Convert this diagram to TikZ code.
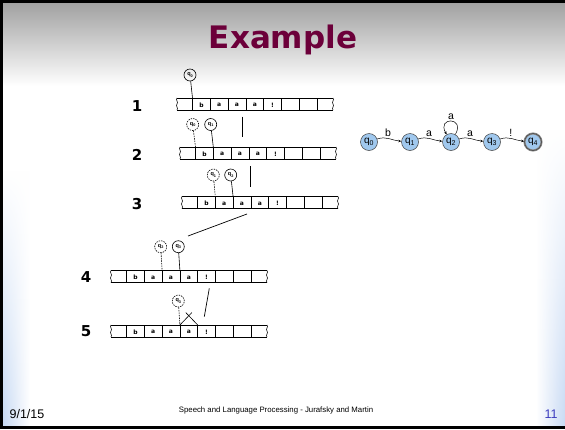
\documentclass[tikz,border=0pt]{standalone}
\usepackage{fontspec}
\setmainfont{Liberation Sans}
\newfontfamily\titlefont{DejaVu Sans}
\usetikzlibrary{arrows.meta,fadings}
\definecolor{titlered}{RGB}{108,0,58}
\definecolor{statefill}{RGB}{160,200,238}
\definecolor{pagenumblue}{RGB}{60,60,190}
\definecolor{edgeblue}{RGB}{200,218,244}
\definecolor{topgray}{RGB}{158,158,158}
\tikzfading[name=fadeup, top color=transparent!100, bottom color=transparent!0]
\tikzset{
  tapeline/.style={line width=0.6pt},
  cellletter/.style={inner sep=0pt, font=\titlefont\fontsize{6}{6}\selectfont\bfseries},
  head/.style={circle, draw, line width=0.6pt, minimum size=12pt, inner sep=0pt,
    font=\fontsize{5.5}{5.5}\selectfont\bfseries},
  dhead/.style={head, dash pattern=on 1.5pt off 1pt},
  hline/.style={line width=0.6pt},
  dhline/.style={line width=0.6pt, dash pattern=on 1.5pt off 1pt},
  sepline/.style={line width=0.7pt},
  stepnum/.style={font=\titlefont\fontsize{15}{15}\selectfont\bfseries, inner sep=0pt},
  state/.style={circle, draw=black!75, fill=statefill, line width=0.5pt, minimum size=17pt,
    inner sep=0pt, font=\fontsize{10}{10}\selectfont},
  fsaedge/.style={line width=0.5pt, -{Stealth[length=3pt,width=2.5pt]}},
  edgelabel/.style={font=\fontsize{10.5}{10.5}\selectfont, inner sep=1.5pt},
  titletext/.style={font=\titlefont\fontsize{31}{31}\selectfont\bfseries, text=titlered},
  foot/.style={font=\fontsize{12.5}{12.5}\selectfont, inner sep=0pt},
  footmid/.style={font=\fontsize{7.8}{7.8}\selectfont, inner sep=0pt},
}
\newcommand\mytape[3]{%
  \begin{scope}[shift={(#2,#3)}]
    \draw[tapeline] (0,0) -- (156,0);
    \draw[tapeline] (0,12) -- (156,12);
    \draw[tapeline] (0,0) .. controls (-1.8,2) and (1.8,4) .. (0,6) .. controls (-1.8,8) and (1.8,10) .. (0,12);
    \draw[tapeline] (156,0) .. controls (157.8,2) and (154.2,4) .. (156,6) .. controls (157.8,8) and (154.2,10) .. (156,12);
    \foreach \k in {0,...,7} {
      \draw[tapeline] (15.5+17.8*\k,0) -- (15.5+17.8*\k,12);
      \coordinate (#1d\k) at (15.5+17.8*\k,0);
    }
    \foreach \l [count=\k from 0] in {b,a,a,a,!}
      \node[cellletter] (#1c\k) at (15.5+17.8*\k+8.9,7) {\l};
  \end{scope}}
\newcommand\qlab[1]{q\raisebox{-1.2pt}{\fontsize{3.8}{3.8}\selectfont #1}}
\begin{document}
\begin{tikzpicture}[x=1pt,y=-1pt]
\useasboundingbox (0,0) rectangle (565,429);
% background
\fill[white] (0,0) rectangle (565,429);
\shade[top color=topgray, bottom color=white] (0,0) rectangle (565,86);
\shade[left color=edgeblue, right color=white, path fading=fadeup] (3,170) rectangle (30,426);
\shade[left color=white, right color=edgeblue, path fading=fadeup] (536,130) rectangle (565,426);
\draw[line width=3pt] (1.5,429) -- (1.5,1.5) -- (565,1.5);
\draw[line width=3pt] (0,427.5) -- (565,427.5);
% title
\node[titletext] (title) at (283,40) {Example};
% step numbers
\node[stepnum] (n1) at (137,106) {1};
\node[stepnum] (n2) at (137,155) {2};
\node[stepnum] (n3) at (137,204) {3};
\node[stepnum] (n4) at (86,277) {4};
\node[stepnum] (n5) at (86,331) {5};
% tapes
\mytape{t1}{177}{98}
\mytape{t2}{180}{147}
\mytape{t3}{182}{196.5}
\mytape{t4}{111}{270.5}
\mytape{t5}{111}{325}
% heads
\node[head] (h1) at (190,75) {\qlab{0}};
\draw[hline] (h1) -- (t1d0);
\node[dhead] (h2a) at (192.7,124.5) {\qlab{0}};
\node[head] (h2b) at (210.7,124.5) {\qlab{1}};
\draw[dhline] (h2a) -- (t2d0);
\draw[hline] (h2b) -- (t2d1);
\node[dhead] (h3a) at (213.3,175) {\qlab{1}};
\node[head] (h3b) at (230.7,175) {\qlab{2}};
\draw[dhline] (h3a) -- (t3d1);
\draw[hline] (h3b) -- (t3d2);
\node[dhead] (h4a) at (160.7,246.7) {\qlab{2}};
\node[head] (h4b) at (178.3,246.7) {\qlab{3}};
\draw[dhline] (h4a) -- (t4d2);
\draw[hline] (h4b) -- (t4d3);
\node[dhead] (h5a) at (178.3,301) {\qlab{3}};
\draw[dhline] (h5a) -- (t5d3);
\coordinate (xl) at (191.8,312.6);
\coordinate (xr) at (185.8,312.6);
\draw[hline] (t5d3) -- (xl);
\draw[hline] (t5d4) -- (xr);
% separators
\draw[sepline] (242.7,116.7) -- (242.7,137.3);
\draw[sepline] (250,166) -- (250,186.7);
\draw[sepline] (247,214) -- (188,236);
\draw[sepline] (209.3,288.3) -- (204.3,316.7);
% automaton
\node[state] (q0) at (369,142) {q\textsubscript{0}};
\node[state] (q1) at (410,142) {q\textsubscript{1}};
\node[state] (q2) at (451,142) {q\textsubscript{2}};
\node[state] (q3) at (492,142) {q\textsubscript{3}};
\node[state, draw=black!45, double=black!75, double distance=0.5pt, line width=0.8pt] (q4) at (533,142) {q\textsubscript{4}};
\draw[fsaedge] (q0) to[out=20,in=175] node[edgelabel, above, pos=0.45] {b} (q1);
\draw[fsaedge] (q1) to[out=20,in=175] node[edgelabel, above, pos=0.45] {a} (q2);
\draw[fsaedge] (q2) to[out=20,in=175] node[edgelabel, above, pos=0.45] {a} (q3);
\draw[fsaedge] (q3) to[out=20,in=175] node[edgelabel, above, pos=0.45] {!} (q4);
\draw[fsaedge] (q2) to[out=60,in=120,looseness=6] node[edgelabel, above] {a} (q2);
% footer
\node[foot] (date) at (27,414) {9/1/15};
\node[footmid] (credit) at (276,410) {Speech and Language Processing - Jurafsky and Martin};
\node[foot, text=pagenumblue] (pg) at (551,414) {11};
\end{tikzpicture}
\end{document}
